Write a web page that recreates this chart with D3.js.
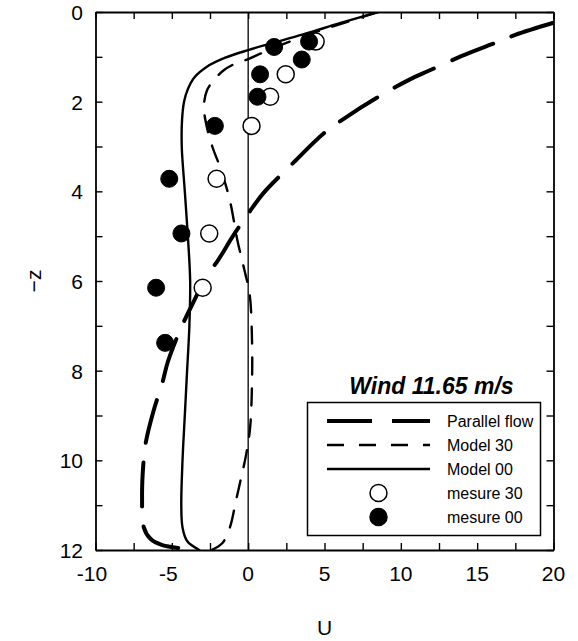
<!DOCTYPE html>
<html>
<head>
<meta charset="utf-8">
<script src="https://cdn.jsdelivr.net/npm/d3@7"></script>
<style>
  body { margin: 0; background: #fff; }
  text { font-family: Arial, "Liberation Sans", sans-serif; fill: #000; }
</style>
</head>
<body>
<svg id="chart" width="578" height="641"></svg>
<script>
// values: [U, -z]
var parallelFlow = [[20,0.24],[17.5,0.51],[16.1,0.70],[14,0.98],[11.9,1.30],[10.5,1.52],[8.4,1.92],[6.36,2.36],[4.94,2.71],[3,3.35],[1.0,4.04],[0,4.5],[-1,5.0],[-2,5.55],[-2.8,5.92],[-3.44,6.37],[-4.4,7.05],[-5.25,7.79],[-5.62,8.27],[-6.2,8.9],[-6.71,9.61],[-6.87,10.1],[-6.95,10.8],[-6.83,11.5],[-6.4,11.75],[-5.62,11.89],[-3.3,12]];
var model30 = [[8.5,0],[6.5,0.22],[4.5,0.44],[2.5,0.69],[1,0.9],[0,1.05],[-0.9,1.16],[-1.6,1.3],[-2.2,1.5],[-2.7,1.75],[-2.9,2.1],[-2.75,2.5],[-2.35,3.0],[-1.8,3.5],[-1.2,4.2],[-0.7,5.1],[-0.25,5.75],[0.1,6.3],[0.25,7.3],[0.25,8.3],[0.12,9.3],[-0.15,9.9],[-0.5,10.45],[-0.8,10.9],[-1.2,11.5],[-1.7,11.85],[-2.4,12]];
var model00 = [[8.5,0],[6,0.25],[3.6,0.5],[1.3,0.72],[0,0.85],[-1.5,1.02],[-2.7,1.22],[-3.5,1.45],[-3.95,1.72],[-4.2,2.0],[-4.33,2.4],[-4.35,3],[-4.15,4],[-3.95,5],[-3.8,6],[-3.85,7],[-4.0,8],[-4.15,9],[-4.3,10],[-4.38,11],[-4.3,11.5],[-4.0,11.8],[-3.2,12]];
var mesure30 = [[4.42,0.66],[2.46,1.39],[1.44,1.89],[0.22,2.54],[-2.07,3.72],[-2.55,4.94],[-2.98,6.15]];
var mesure00 = [[1.70,0.78],[3.99,0.66],[3.51,1.06],[0.78,1.39],[0.61,1.89],[-2.18,2.54],[-5.17,3.72],[-4.37,4.94],[-6.03,6.15],[-5.44,7.38]];

var xTicks = [-10,-7.5,-5,-2.5,0,2.5,5,7.5,10,12.5,15,17.5,20];
var xLabels = [-10,-5,0,5,10,15,20];
var yTicks = [0,1,2,3,4,5,6,7,8,9,10,11,12];
var yLabels = [0,2,4,6,8,10,12];
var legendNames = ["Parallel flow","Model 30","Model 00","mesure 30","mesure 00"];
var title = "Wind 11.65 m/s";

var svg = d3.select("#chart");
var pL = 95.5, pT = 12, pR = 553.5, pB = 550;

var x = d3.scaleLinear().domain([-10, 20]).range([pL, pR]);
var y = d3.scaleLinear().domain([0, 12]).range([pT, pB]);

svg.append("defs").append("clipPath").attr("id", "plotclip")
  .append("rect").attr("x", pL).attr("y", pT)
  .attr("width", pR - pL).attr("height", pB - pT);

var tickLen = 7;

// axes with inward ticks on all four sides
var axB = d3.axisBottom(x).tickValues(xTicks).tickSizeInner(-tickLen).tickSizeOuter(0).tickFormat("");
var axT = d3.axisTop(x).tickValues(xTicks).tickSizeInner(-tickLen).tickSizeOuter(0).tickFormat("");
var axL = d3.axisLeft(y).tickValues(yTicks).tickSizeInner(-tickLen).tickSizeOuter(0).tickFormat("");
var axR = d3.axisRight(y).tickValues(yTicks).tickSizeInner(-tickLen).tickSizeOuter(0).tickFormat("");

[[axB, "translate(0," + pB + ")"], [axT, "translate(0," + pT + ")"],
 [axL, "translate(" + pL + ",0)"], [axR, "translate(" + pR + ",0)"]].forEach(function (a) {
  var g = svg.append("g").attr("transform", a[1]).call(a[0]);
  g.select(".domain").attr("stroke", "#000").attr("stroke-width", 1.8);
  g.selectAll(".tick line").attr("stroke", "#000").attr("stroke-width", 1.4);
});

// x tick labels: digits centred on the tick, minus sign hanging to the left
var labelSize = "21px";
svg.selectAll(".xl").data(xLabels).enter().append("text")
  .attr("class", "xl")
  .attr("x", function (d) { return x(d); })
  .attr("y", 581)
  .attr("text-anchor", "middle")
  .style("font-size", labelSize)
  .text(function (d) { return Math.abs(d); })
  .each(function (d) {
    if (d < 0) {
      var w = this.getComputedTextLength();
      svg.append("text").attr("x", x(d) - w / 2).attr("y", 581)
        .attr("text-anchor", "end").style("font-size", labelSize).text("-");
    }
  });

svg.selectAll(".yl").data(yLabels).enter().append("text")
  .attr("x", 83)
  .attr("y", function (d) { return y(d) + 8; })
  .attr("text-anchor", "end")
  .style("font-size", labelSize)
  .text(function (d) { return d; });

svg.append("text").attr("x", x(-10) + (pR - pL) / 2).attr("y", 635).attr("text-anchor", "middle")
  .style("font-size", "21px").text("U");
svg.append("text").attr("transform", "translate(41," + ((pT + pB) / 2) + ") rotate(-90)")
  .attr("text-anchor", "middle").style("font-size", "21px").text("\u2212z");

// zero line
svg.append("line").attr("x1", x(0)).attr("x2", x(0)).attr("y1", pT).attr("y2", pB)
  .attr("stroke", "#000").attr("stroke-width", 1.3);

var line = d3.line()
  .x(function (d) { return x(d[0]); })
  .y(function (d) { return y(d[1]); })
  .curve(d3.curveCatmullRom.alpha(0.5));

var plot = svg.append("g").attr("clip-path", "url(#plotclip)");

var styles = {
  pf: { w: 4, dash: "44,20" },
  m30: { w: 2.4, dash: "17,14" },
  m00: { w: 2.4, dash: null }
};

function drawCurve(data, st) {
  var p = plot.append("path").datum(data).attr("d", line)
    .attr("fill", "none").attr("stroke", "#000")
    .attr("stroke-width", st.w).attr("stroke-linecap", "round");
  if (st.dash) p.attr("stroke-dasharray", st.dash);
}
drawCurve(parallelFlow, styles.pf);
drawCurve(model30, styles.m30);
drawCurve(model00, styles.m00);

var r = 8.5;
plot.selectAll(".m30").data(mesure30).enter().append("circle")
  .attr("cx", function (d) { return x(d[0]); })
  .attr("cy", function (d) { return y(d[1]); })
  .attr("r", r).attr("fill", "#fff").attr("stroke", "#000").attr("stroke-width", 1.5);
plot.selectAll(".m00").data(mesure00).enter().append("circle")
  .attr("cx", function (d) { return x(d[0]); })
  .attr("cy", function (d) { return y(d[1]); })
  .attr("r", r).attr("fill", "#000").attr("stroke", "#000").attr("stroke-width", 1);

// legend
svg.append("text").attr("x", 431.5).attr("y", 394).attr("text-anchor", "middle")
  .style("font-size", "23px").style("font-weight", "bold").style("font-style", "italic")
  .text(title);

var lg = svg.append("g");
lg.append("rect").attr("x", 307.5).attr("y", 402.5).attr("width", 233).attr("height", 133)
  .attr("fill", "#fff").attr("stroke", "#000").attr("stroke-width", 1.5);

var rowY = d3.scalePoint().domain(legendNames).range([421, 517]);
var lineStyles = [styles.pf, styles.m30, styles.m00];
legendNames.forEach(function (name, i) {
  var yy = rowY(name);
  if (i < 3) {
    var l = lg.append("line").attr("x1", 327).attr("x2", 430).attr("y1", yy).attr("y2", yy)
      .attr("stroke", "#000").attr("stroke-width", lineStyles[i].w);
    if (lineStyles[i].dash) l.attr("stroke-dasharray", i === 0 ? "45,20" : "17,15");
  } else {
    lg.append("circle").attr("cx", 378.5).attr("cy", yy).attr("r", r)
      .attr("fill", i === 3 ? "#fff" : "#000").attr("stroke", "#000").attr("stroke-width", 1.5);
  }
  lg.append("text").attr("x", 447).attr("y", yy + 6).style("font-size", "16px").text(name);
});
</script>
</body>
</html>
